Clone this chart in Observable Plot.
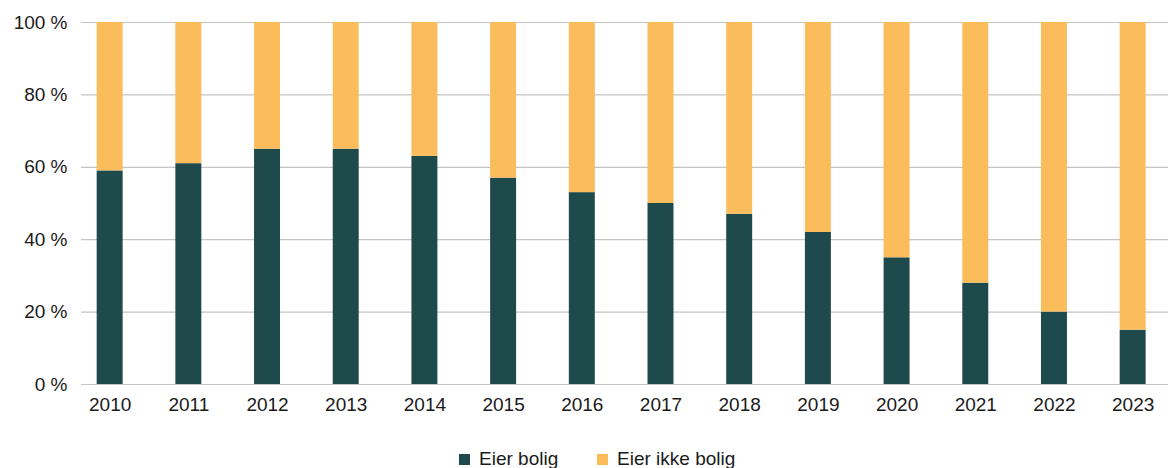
<!DOCTYPE html>
<html>
<head>
<meta charset="utf-8">
<script src="https://cdn.jsdelivr.net/npm/d3@7"></script>
<script src="https://cdn.jsdelivr.net/npm/@observablehq/plot@0.6"></script>
<style>
body { margin: 0; background: #fff; font-family: "Liberation Sans", Arial, sans-serif; }
#legend { position: relative; height: 38px; font-size: 19px; color: #1a1a1a; }
.item { position: absolute; top: 18px; display: flex; align-items: center; }
.sw { width: 11px; height: 11px; margin-right: 9px; }
</style>
</head>
<body>
<div id="chart"></div>
<div id="legend"></div>
<script>
const years = ["2010","2011","2012","2013","2014","2015","2016","2017","2018","2019","2020","2021","2022","2023"];
const eierBolig = [59, 61, 65, 65, 63, 57, 53, 50, 47, 42, 35, 28, 20, 15];
const eierIkkeBolig = eierBolig.map(v => 100 - v);
const series = ["Eier bolig", "Eier ikke bolig"];
const colors = ["#1e4a4b", "#fbbc5c"];
const yTicks = [0, 20, 40, 60, 80, 100];

const data = [];
years.forEach((y, i) => {
  data.push({year: y, series: series[0], value: eierBolig[i]});
  data.push({year: y, series: series[1], value: eierIkkeBolig[i]});
});

const chart = Plot.plot({
  width: 1168,
  height: 430,
  marginLeft: 81,
  marginRight: 0,
  marginTop: 22,
  marginBottom: 46,
  style: {fontFamily: "Liberation Sans, Arial, sans-serif", fontSize: "19px", color: "#1a1a1a"},
  x: {domain: years, range: [70.3, 1172], paddingInner: 0.67, paddingOuter: 0.335, round: false, label: null},
  y: {domain: [0, 100], label: null},
  color: {domain: series, range: colors},
  marks: [
    Plot.ruleY(yTicks, {stroke: "#c4c4c4", strokeWidth: 1.2}),
    Plot.barY(data, {x: "year", y: "value", fill: "series", order: series}),
    Plot.axisY(yTicks, {tickSize: 0, tickPadding: 14, tickFormat: d => d + " %", fontSize: 19}),
    Plot.axisX({tickSize: 0, tickPadding: 13, fontSize: 19})
  ]
});
document.getElementById("chart").appendChild(chart);

const legend = document.getElementById("legend");
const lefts = [459, 597];
series.forEach((s, i) => {
  const d = document.createElement("div");
  d.className = "item";
  d.style.left = lefts[i] + "px";
  d.innerHTML = `<span class="sw" style="background:${colors[i]}"></span><span>${s}</span>`;
  legend.appendChild(d);
});
</script>
</body>
</html>
